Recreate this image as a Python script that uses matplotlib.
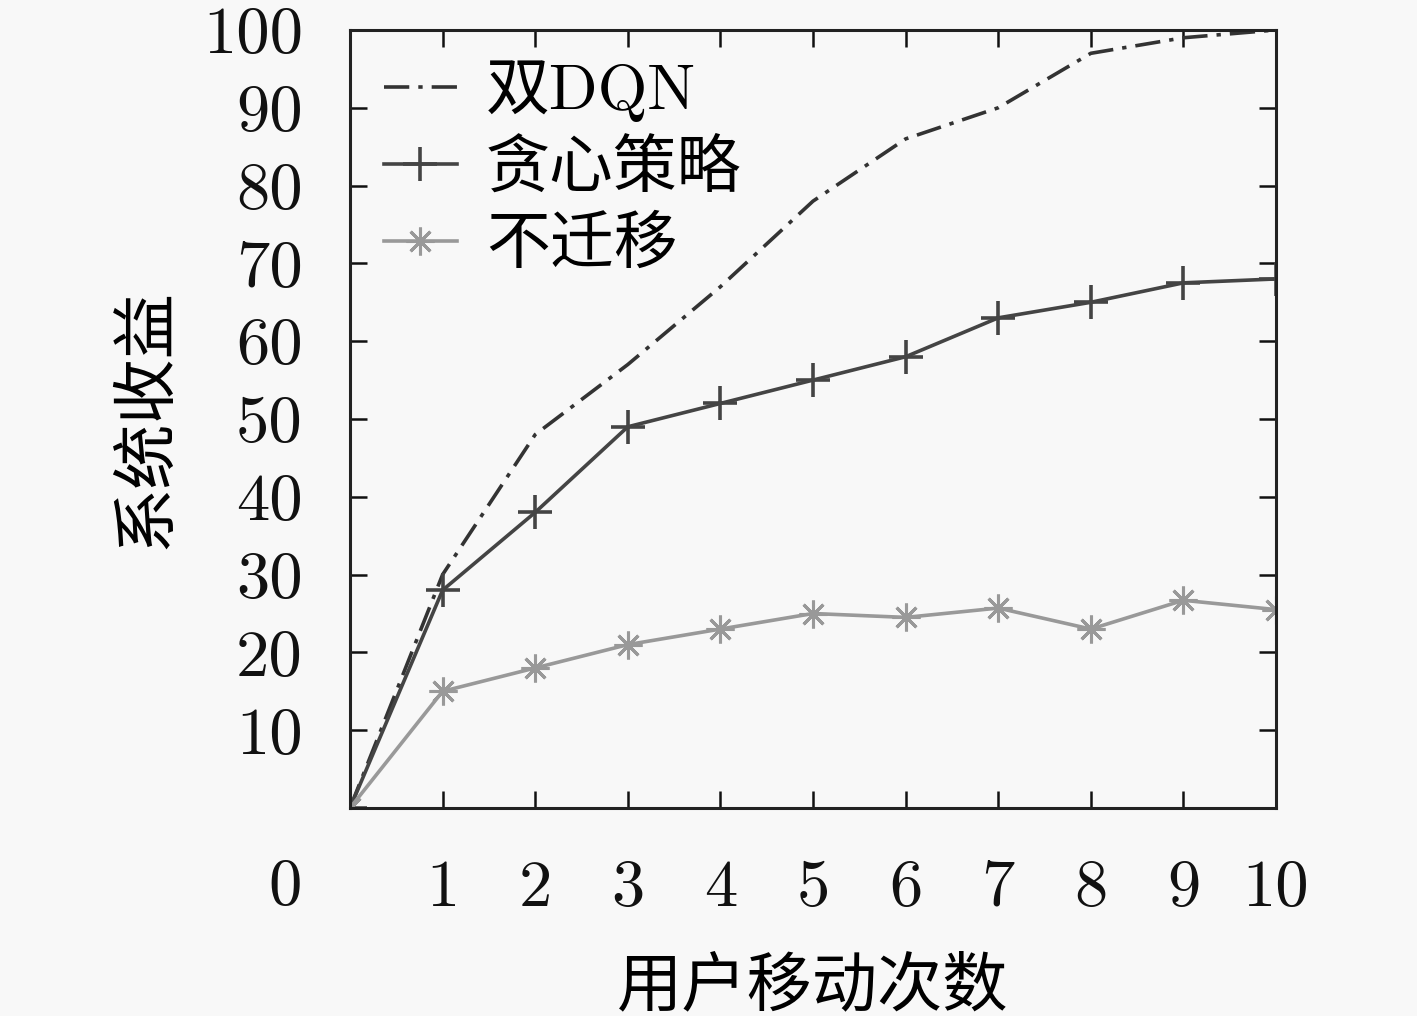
import matplotlib
matplotlib.use("Agg")
import matplotlib.pyplot as plt

x = [0, 1, 2, 3, 4, 5, 6, 7, 8, 9, 10]
dqn = [0, 30, 48, 57, 67, 78, 86, 90, 97, 99, 100]
greedy = [0, 28, 38, 49, 52, 55, 58, 63, 65, 67.5, 68]
nomig = [0, 15, 18, 21, 23, 25, 24.5, 25.7, 23, 26.7, 25.5]
labels = ["双DQN", "贪心策略", "不迁移"]
xticks = [1, 2, 3, 4, 5, 6, 7, 8, 9, 10]
yticks = [10, 20, 30, 40, 50, 60, 70, 80, 90, 100]
xlabel = "用户移动次数"
ylabel = "系统收益"

fam = ["cmr10", "Noto Sans CJK SC", "DejaVu Sans"]
plt.rcParams["font.family"] = fam
plt.rcParams["axes.formatter.use_mathtext"] = True

bg = "#f8f8f8"
fig = plt.figure(figsize=(14.17, 10.16), dpi=100, facecolor=bg)
ax = fig.add_axes([0.247, 0.2047, 0.6535, 0.7658], facecolor=bg)

ax.plot(x, dqn, color="#333333", lw=2.6, ls=(0, (7, 2.5, 1.2, 2.5)), label=labels[0])
ax.plot(x, greedy, color="#444444", lw=2.6, marker="+", ms=24, mew=2.6, label=labels[1])
ax.plot(x, nomig, color="#999999", lw=2.6, marker=(8, 2, 0), ms=20, mew=2.2, label=labels[2])

ax.set_xlim(0, 10)
ax.set_ylim(0, 100)
ax.set_xticks(xticks)
ax.set_xticklabels([str(v) for v in xticks])
ax.set_yticks(yticks)
ax.set_yticklabels([str(v) for v in yticks])
ax.tick_params(direction="in", length=12, width=1.8, top=True, right=True,
               labelsize=48, colors="#111111")
ax.tick_params(axis="x", pad=37)
ax.tick_params(axis="y", pad=34)
for s in ax.spines.values():
    s.set_linewidth(2.2)
    s.set_color("#222222")

ax.text(-0.7, -10.3, "0", fontsize=48, ha="center", va="center", color="#111111",
        transform=ax.transData, clip_on=False)

ax.set_xlabel(xlabel, fontsize=47, labelpad=28)
ax.set_ylabel(ylabel, fontsize=47, labelpad=18)

leg = ax.legend(loc="upper left", bbox_to_anchor=(-0.012, 1.018), frameon=False,
                fontsize=46, handlelength=1.15, handletextpad=0.45,
                labelspacing=0.28, borderaxespad=0.3)

fig.savefig("out.png", dpi=100, facecolor=bg)
